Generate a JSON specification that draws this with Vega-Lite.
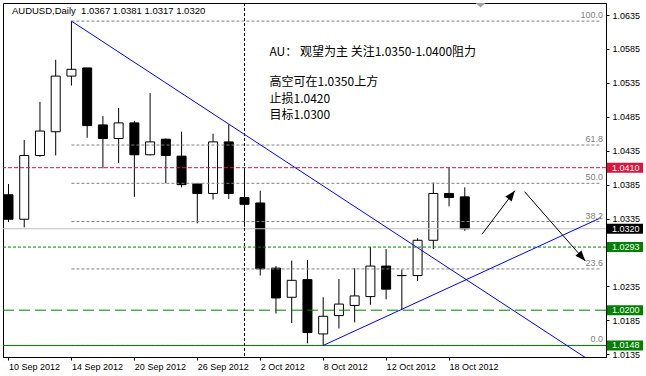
{
  "$schema": "https://vega.github.io/schema/vega-lite/v6.json",
  "width": 603,
  "height": 354,
  "autosize": {"type": "none"},
  "padding": {"left": 3, "top": 3, "right": 40, "bottom": 19},
  "background": "white",
  "config": {
    "view": {"stroke": "black", "strokeWidth": 1},
    "font": "Liberation Sans",
    "axis": {"grid": false, "title": null, "domainColor": "black", "tickColor": "black", "labelColor": "black", "labelFont": "Liberation Sans", "labelFontSize": 9, "tickSize": 3, "labelOverlap": false, "labelBound": false, "labelFlush": false}
  },
  "datasets": {
    "candles": [
      {"i": 0, "o": 1.0370, "h": 1.0386, "l": 1.0330, "c": 1.0334},
      {"i": 1, "o": 1.0334, "h": 1.0451, "l": 1.0322, "c": 1.0428},
      {"i": 2, "o": 1.0428, "h": 1.0507, "l": 1.0426, "c": 1.0464},
      {"i": 3, "o": 1.0463, "h": 1.0569, "l": 1.0428, "c": 1.0545},
      {"i": 4, "o": 1.0545, "h": 1.0626, "l": 1.0531, "c": 1.0555},
      {"i": 5, "o": 1.0557, "h": 1.0557, "l": 1.0454, "c": 1.0472},
      {"i": 6, "o": 1.0473, "h": 1.0486, "l": 1.0409, "c": 1.0453},
      {"i": 7, "o": 1.0453, "h": 1.0498, "l": 1.0417, "c": 1.0476},
      {"i": 8, "o": 1.0476, "h": 1.0479, "l": 1.0367, "c": 1.0429},
      {"i": 9, "o": 1.0429, "h": 1.0520, "l": 1.0428, "c": 1.0448},
      {"i": 10, "o": 1.0452, "h": 1.0453, "l": 1.0387, "c": 1.0428},
      {"i": 11, "o": 1.0427, "h": 1.0463, "l": 1.0381, "c": 1.0385},
      {"i": 12, "o": 1.0386, "h": 1.0387, "l": 1.0328, "c": 1.0372},
      {"i": 13, "o": 1.0372, "h": 1.0460, "l": 1.0363, "c": 1.0448},
      {"i": 14, "o": 1.0448, "h": 1.0474, "l": 1.0364, "c": 1.0372},
      {"i": 15, "o": 1.0366, "h": 1.0406, "l": 1.0323, "c": 1.0356},
      {"i": 16, "o": 1.0358, "h": 1.0376, "l": 1.0251, "c": 1.0261},
      {"i": 17, "o": 1.0262, "h": 1.0265, "l": 1.0195, "c": 1.0218},
      {"i": 18, "o": 1.0219, "h": 1.0273, "l": 1.0181, "c": 1.0244},
      {"i": 19, "o": 1.0245, "h": 1.0274, "l": 1.0151, "c": 1.0167},
      {"i": 20, "o": 1.0165, "h": 1.0219, "l": 1.0148, "c": 1.0191},
      {"i": 21, "o": 1.0192, "h": 1.0246, "l": 1.0173, "c": 1.0209},
      {"i": 22, "o": 1.0207, "h": 1.0262, "l": 1.0182, "c": 1.0221},
      {"i": 23, "o": 1.0220, "h": 1.0293, "l": 1.0208, "c": 1.0265},
      {"i": 24, "o": 1.0265, "h": 1.0290, "l": 1.0216, "c": 1.0231},
      {"i": 25, "o": 1.0251, "h": 1.0260, "l": 1.0200, "c": 1.0251},
      {"i": 26, "o": 1.0251, "h": 1.0306, "l": 1.0243, "c": 1.0303},
      {"i": 27, "o": 1.0303, "h": 1.0388, "l": 1.0290, "c": 1.0372},
      {"i": 28, "o": 1.0372, "h": 1.0410, "l": 1.0353, "c": 1.0366},
      {"i": 29, "o": 1.0367, "h": 1.0381, "l": 1.0317, "c": 1.0320}
    ],
    "fib": [
      {"lv": "100.0", "i0": 4, "i1": 37.65625, "p": 1.0626},
      {"lv": "61.8", "i0": 4, "i1": 37.65625, "p": 1.04434},
      {"lv": "50.0", "i0": 4, "i1": 37.65625, "p": 1.0387},
      {"lv": "38.2", "i0": 4, "i1": 37.65625, "p": 1.03306},
      {"lv": "23.6", "i0": 4, "i1": 37.65625, "p": 1.02608},
      {"lv": "0.0", "i0": 4, "i1": 37.65625, "p": 1.0148}
    ],
    "trend": [
      {"id": "t1", "i": 4, "p": 1.0626},
      {"id": "t1", "i": 37.66, "p": 1.0115},
      {"id": "t2", "i": 20, "p": 1.0148},
      {"id": "t2", "i": 37.66, "p": 1.03364}
    ],
    "arrows": [
      {"id": "up", "i": 30.09, "p": 1.03118},
      {"id": "up", "i": 32.18, "p": 1.03761},
      {"id": "dn", "i": 32.8, "p": 1.03746},
      {"id": "dn", "i": 36.66, "p": 1.02725}
    ],
    "notes": [
      {"i": 16.59, "p": 1.05805, "t": "AU： 观望为主 关注1.0350-1.0400阻力"},
      {"i": 16.59, "p": 1.05367, "t": "高空可在1.0350上方"},
      {"i": 16.59, "p": 1.05112, "t": "止损1.0420"},
      {"i": 16.59, "p": 1.04877, "t": "目标1.0300"}
    ],
    "tags": [
      {"p": 1.0410, "k": "high", "t": "1.0410"},
      {"p": 1.0320, "k": "bid", "t": "1.0320"},
      {"p": 1.0293, "k": "level", "t": "1.0293"},
      {"p": 1.0200, "k": "level", "t": "1.0200"},
      {"p": 1.0148, "k": "level", "t": "1.0148"}
    ]
  },
  "layer": [
    {
      "data": {"name": "candles"},
      "mark": {"type": "rule", "color": "black", "strokeWidth": 1, "clip": true},
      "encoding": {
        "x": {"field": "i", "type": "quantitative", "scale": {"domain": [-0.03125, 37.65625], "nice": false, "zero": false},
          "axis": {"values": [0, 4, 8, 12, 16, 20, 24, 28], "tickCount": 20, "labelExpr": "['10 Sep 2012','14 Sep 2012','20 Sep 2012','26 Sep 2012','2 Oct 2012','8 Oct 2012','12 Oct 2012','18 Oct 2012'][datum.value/4]", "labelAlign": "left", "labelBaseline": "top", "labelPadding": 2, "labelOverlap": false}},
        "y": {"field": "l", "type": "quantitative", "scale": {"domain": [1.0131, 1.06527], "nice": false, "zero": false},
          "axis": {"orient": "right", "values": [1.0135, 1.0185, 1.0235, 1.0335, 1.0385, 1.0435, 1.0485, 1.0535, 1.0585, 1.0635], "tickCount": 20, "format": ".4f", "labelAlign": "left", "labelBaseline": "middle", "labelPadding": 3, "labelOverlap": false}},
        "y2": {"field": "h"}
      }
    },
    {
      "data": {"name": "candles"},
      "mark": {"type": "bar", "width": 9, "stroke": "black", "strokeWidth": 1, "clip": true},
      "encoding": {
        "x": {"field": "i", "type": "quantitative"},
        "y": {"field": "o", "type": "quantitative"},
        "y2": {"field": "c"},
        "fill": {"condition": {"test": "datum.c >= datum.o", "value": "white"}, "value": "black"}
      }
    },
    {
      "data": {"name": "fib"},
      "mark": {"type": "rule", "color": "#808080", "strokeWidth": 1, "strokeDash": [3, 2], "clip": true},
      "encoding": {
        "x": {"field": "i0", "type": "quantitative"},
        "x2": {"field": "i1"},
        "y": {"field": "p", "type": "quantitative"}
      }
    },
    {
      "data": {"values": [{"p": 1.0320}]},
      "mark": {"type": "rule", "color": "#c0c0c0", "strokeWidth": 1},
      "encoding": {"y": {"field": "p", "type": "quantitative"}}
    },
    {
      "data": {"values": [{"p": 1.0410}]},
      "mark": {"type": "rule", "color": "#dc143c", "strokeWidth": 1, "strokeDash": [4, 2]},
      "encoding": {"y": {"field": "p", "type": "quantitative"}}
    },
    {
      "data": {"values": [{"p": 1.0293}]},
      "mark": {"type": "rule", "color": "#008000", "strokeWidth": 1, "strokeDash": [3, 2]},
      "encoding": {"y": {"field": "p", "type": "quantitative"}}
    },
    {
      "data": {"values": [{"p": 1.0200}]},
      "mark": {"type": "rule", "color": "#008000", "strokeWidth": 1, "strokeDash": [11, 5]},
      "encoding": {"y": {"field": "p", "type": "quantitative"}}
    },
    {
      "data": {"values": [{"p": 1.0148}]},
      "mark": {"type": "rule", "color": "#008000", "strokeWidth": 1},
      "encoding": {"y": {"field": "p", "type": "quantitative"}}
    },
    {
      "data": {"values": [{"i": 15}]},
      "mark": {"type": "rule", "color": "black", "strokeWidth": 1, "strokeDash": [3, 2]},
      "encoding": {"x": {"field": "i", "type": "quantitative"}}
    },
    {
      "data": {"name": "trend"},
      "mark": {"type": "line", "color": "#0000ff", "strokeWidth": 1, "clip": true},
      "encoding": {
        "x": {"field": "i", "type": "quantitative"},
        "y": {"field": "p", "type": "quantitative"},
        "detail": {"field": "id"}
      }
    },
    {
      "data": {"name": "arrows"},
      "mark": {"type": "line", "color": "black", "strokeWidth": 1},
      "encoding": {
        "x": {"field": "i", "type": "quantitative"},
        "y": {"field": "p", "type": "quantitative"},
        "detail": {"field": "id"}
      }
    },
    {
      "data": {"name": "arrows"},
      "transform": [{"filter": "datum.id == 'up' && datum.i > 31"}],
      "mark": {"type": "point", "shape": "M0,0L-1,2.6L1,2.6Z", "size": 64, "filled": true, "color": "black", "opacity": 1, "angle": 37.4},
      "encoding": {
        "x": {"field": "i", "type": "quantitative"},
        "y": {"field": "p", "type": "quantitative"}
      }
    },
    {
      "data": {"name": "arrows"},
      "transform": [{"filter": "datum.id == 'dn' && datum.i > 34"}],
      "mark": {"type": "point", "shape": "M0,0L-1,2.6L1,2.6Z", "size": 64, "filled": true, "color": "black", "opacity": 1, "angle": 138.4},
      "encoding": {
        "x": {"field": "i", "type": "quantitative"},
        "y": {"field": "p", "type": "quantitative"}
      }
    },
    {
      "data": {"name": "fib"},
      "mark": {"type": "text", "color": "#808080", "font": "Liberation Sans", "fontSize": 9, "align": "right", "baseline": "bottom", "dx": -3, "dy": -1},
      "encoding": {
        "x": {"value": "width"},
        "y": {"field": "p", "type": "quantitative"},
        "text": {"field": "lv"}
      }
    },
    {
      "data": {"name": "notes"},
      "mark": {"type": "text", "color": "black", "font": "Noto Sans CJK SC", "fontSize": 12, "align": "left", "baseline": "middle"},
      "encoding": {
        "x": {"field": "i", "type": "quantitative"},
        "y": {"field": "p", "type": "quantitative"},
        "text": {"field": "t"}
      }
    },
    {
      "data": {"values": [{"i": 0.22, "p": 1.06416, "t": "AUDUSD,Daily\u00a0 1.0367 1.0381 1.0317 1.0320"}]},
      "mark": {"type": "text", "color": "black", "font": "Liberation Sans", "fontSize": 9.5, "align": "left", "baseline": "middle"},
      "encoding": {
        "x": {"field": "i", "type": "quantitative"},
        "y": {"field": "p", "type": "quantitative"},
        "text": {"field": "t"}
      }
    },
    {
      "data": {"values": [{"i": 30, "p": 1.06527}]},
      "mark": {"type": "point", "shape": "M-1,0L1,0L0,0.9Z", "size": 100, "filled": true, "color": "#a0a0a0", "opacity": 1},
      "encoding": {
        "x": {"field": "i", "type": "quantitative"},
        "y": {"field": "p", "type": "quantitative"}
      }
    },
    {
      "data": {"name": "tags"},
      "mark": {"type": "point", "shape": "M0.1,-0.5L3.7,-0.5L3.7,0.5L0.1,0.5Z", "size": 400, "filled": true, "opacity": 1},
      "encoding": {
        "x": {"value": "width"},
        "y": {"field": "p", "type": "quantitative"},
        "color": {"field": "k", "type": "nominal", "scale": {"domain": ["high", "bid", "level"], "range": ["#dc143c", "#000000", "#008000"]}, "legend": null}
      }
    },
    {
      "data": {"name": "tags"},
      "mark": {"type": "text", "color": "white", "font": "Liberation Sans", "fontSize": 9, "align": "left", "baseline": "middle", "dx": 6},
      "encoding": {
        "x": {"value": "width"},
        "y": {"field": "p", "type": "quantitative"},
        "text": {"field": "t"}
      }
    }
  ]
}
